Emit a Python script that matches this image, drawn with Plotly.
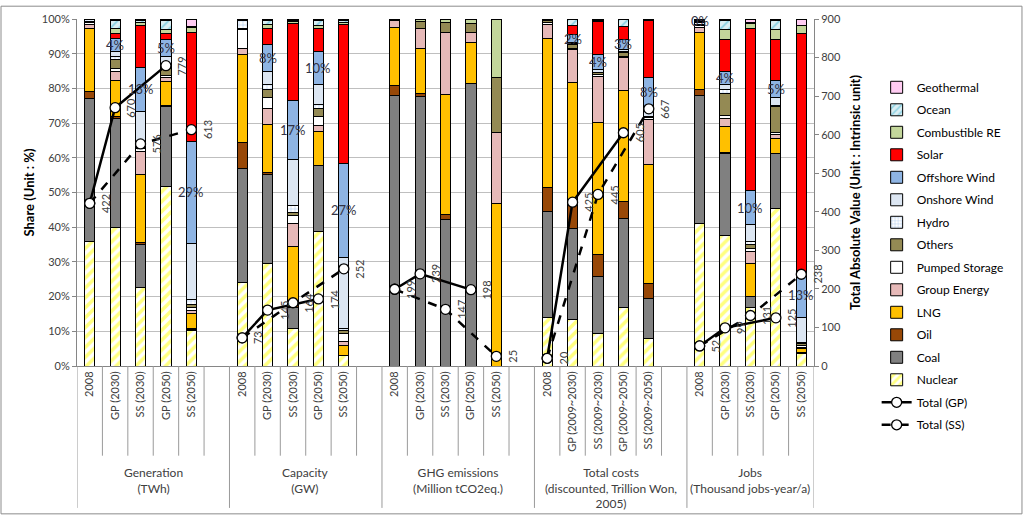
import plotly.graph_objects as go

# ---------------- data ----------------
group_titles = ["Generation<br>(TWh)", "Capacity<br>(GW)", "GHG emissions<br>(Million tCO2eq.)",
                "Total costs<br>(discounted, Trillion Won,<br>2005)", "Jobs<br>(Thousand jobs-year/a)"]
bar_labels = [
    ["2008", "GP (2030)", "SS (2030)", "GP (2050)", "SS (2050)"],
    ["2008", "GP (2030)", "SS (2030)", "GP (2050)", "SS (2050)"],
    ["2008", "GP (2030)", "SS (2030)", "GP (2050)", "SS (2050)"],
    ["2008", "GP (2009~2030)", "SS (2009~2030)", "GP (2009~2050)", "SS (2009~2050)"],
    ["2008", "GP (2030)", "SS (2030)", "GP (2050)", "SS (2050)"],
]

# shares (%) per bar: Generation x5, Capacity x5, GHG x5, Costs x5, Jobs x5
nuclear  = [35.8, 39.9, 22.7, 51.7, 10.2,  24.2, 29.6, 10.7, 38.8, 3.1,  0, 0, 0, 0, 0,  14.0, 13.4, 9.3, 16.8, 7.9,  41.0, 37.7, 16.8, 45.3, 3.6]
coal     = [41.2, 31.4, 12.2, 23.1, 0.3,   32.7, 25.6, 6.3, 19.0, 0,     77.9, 77.6, 42.2, 81.3, 0,  30.6, 26.2, 16.6, 25.8, 11.5,  36.9, 23.5, 3.1, 15.9, 0]
oil      = [2.2, 0.5, 0.7, 0.2, 0.2,       7.5, 0.7, 0.3, 0, 0,          2.9, 0.8, 1.6, 0, 0,  6.8, 6.6, 6.1, 4.7, 4.4,  1.9, 0.3, 0, 0, 0.3]
lng      = [18.0, 10.6, 19.6, 7.0, 4.3,    25.4, 13.8, 17.1, 9.7, 2.9,   16.7, 13.0, 34.3, 11.8, 46.9,  42.9, 35.5, 38.1, 32.1, 34.2,  16.4, 7.6, 9.7, 4.4, 1.1]
group_en = [1.1, 2.5, 6.6, 1.1, 1.0,       1.6, 4.4, 6.6, 1.7, 1.0,      2.2, 5.8, 18.0, 3.1, 20.3,  4.2, 9.5, 13.2, 9.4, 13.1,  1.3, 2.2, 3.4, 1.2, 0.3]
pumped   = [0.8, 0.9, 1.0, 0.5, 0.8,       5.7, 3.2, 2.4, 2.6, 2.5,      0, 0, 0, 0, 0,  0.5, 0.3, 0.6, 0.3, 0.4,  0.5, 0.9, 1.0, 0.6, 0.6]
others   = [0.3, 2.4, 0.3, 2.2, 1.0,       0.2, 2.5, 0.9, 2.3, 0.6,      0.3, 2.1, 3.0, 2.5, 15.8,  0.5, 1.1, 0.6, 1.3, 0.4,  0.5, 6.4, 1.0, 7.4, 0.6]
hydro    = [0.6, 0.9, 0.3, 0.6, 1.5,       2.3, 1.4, 1.9, 1.4, 0.6,      0, 0, 0, 0, 0,  0.5, 0.2, 0.1, 0.2, 0.1,  0.5, 1.2, 0.8, 0.3, 0.4]
onshore  = [0, 1.4, 9.9, 2.9, 16.1,        0.2, 3.8, 13.4, 5.5, 20.6,    0, 0, 0, 0, 0,  0, 0.3, 0.8, 0.6, 2.8,  0.3, 1.4, 5.0, 2.4, 7.1]
offshore = [0, 3.8, 12.8, 4.8, 29.4,       0, 7.6, 16.8, 9.7, 27.2,      0, 0, 0, 0, 0,  0, 2.3, 4.4, 3.0, 8.3,  0.2, 3.8, 9.7, 4.7, 13.1]
solar    = [0, 1.4, 12.0, 1.7, 31.3,       0.2, 4.7, 22.4, 6.5, 40.0,    0, 0, 0, 0, 0,  0, 2.6, 9.4, 3.5, 16.4,  0.3, 9.0, 46.7, 11.8, 68.8]
comb_re  = [0, 1.5, 0.8, 1.2, 1.4,         0, 1.0, 0.4, 0.8, 0.5,        0, 0.7, 0.9, 1.3, 17.0,  0, 0.2, 0.3, 0.2, 0.2,  0.2, 2.9, 1.6, 2.9, 2.3]
ocean    = [0, 2.3, 0.6, 2.6, 0.3,         0, 1.4, 0.4, 1.7, 0.5,        0, 0, 0, 0, 0,  0, 1.7, 0.3, 2.0, 0.2,  0, 2.8, 0.2, 2.8, 0]
geotherm = [0, 0.5, 0.5, 0.4, 2.2,         0, 0.3, 0.4, 0.3, 0.5,        0, 0, 0, 0, 0,  0, 0.1, 0.2, 0.1, 0.1,  0, 0.3, 1.0, 0.3, 1.8]

# totals (right axis) per group: [2008, GP 2030, SS 2030, GP 2050, SS 2050]
total_gen  = [422, 670, 576, 779, 613]
total_cap  = [73, 145, 164, 174, 252]
total_ghg  = [199, 239, 147, 198, 25]
total_cost = [20, 425, 445, 605, 667]
total_jobs = [52, 99, 131, 125, 238]
totals = [total_gen, total_cap, total_ghg, total_cost, total_jobs]

# ---------------- layout helpers ----------------
SLOT = 6
xpos = [g * SLOT + i for g in range(5) for i in range(5)]
ticktext = [lab for labs in bar_labels for lab in labs]
FONT = "Lato"
TXT = "#404040"

series = [
    ("Nuclear", nuclear, dict(color="white", pattern=dict(shape="/", fgcolor="#FFFF00", bgcolor="white", size=7, solidity=0.5))),
    ("Coal", coal, dict(color="#808080")),
    ("Oil", oil, dict(color="#984807")),
    ("LNG", lng, dict(color="#FFC000")),
    ("Group Energy", group_en, dict(color="#E6B9B8")),
    ("Pumped Storage", pumped, dict(color="#FFFFFF")),
    ("Others", others, dict(color="#948A54")),
    ("Hydro", hydro, dict(color="white", pattern=dict(shape="+", fgcolor="#538DD5", bgcolor="white", size=4, solidity=0.25))),
    ("Onshore Wind", onshore, dict(color="#DCE6F2")),
    ("Offshore Wind", offshore, dict(color="#8EB4E3")),
    ("Solar", solar, dict(color="#FF0000")),
    ("Combustible RE", comb_re, dict(color="#C3D69B")),
    ("Ocean", ocean, dict(color="#DAEEF3", pattern=dict(shape="/", fgcolor="#31B0D0", bgcolor="#DAEEF3", size=6, solidity=0.3))),
    ("Geothermal", geotherm, dict(color="#FFCCF2")),
]

fig = go.Figure()
n = len(series)
for k, (name, vals, mk) in enumerate(series):
    mk = dict(mk)
    mk["line"] = dict(color="black", width=1)
    fig.add_trace(go.Bar(
        x=xpos, y=[v if v else None for v in vals], name=name, width=0.4,
        marker=mk, legendrank=n - k, legendgroup=name,
        hovertemplate=name + ": %{y}%<extra></extra>"))

# totals lines
gp_x, gp_y, ss_x, ss_y = [], [], [], []
for g, t in enumerate(totals):
    base = g * SLOT
    gp_x += [base + 0, base + 1, base + 3, None]
    gp_y += [t[0], t[1], t[3], None]
    ss_x += [base + 0, base + 2, base + 4, None]
    ss_y += [t[0], t[2], t[4], None]

mark = dict(symbol="circle", size=10, color="white", line=dict(color="black", width=1.3))
fig.add_trace(go.Scatter(x=gp_x, y=gp_y, yaxis="y2", mode="lines+markers", name="Total (GP)",
                         line=dict(color="black", width=2.5), marker=mark, legendrank=n + 1,
                         legendgroup="gp", connectgaps=False))
fig.add_trace(go.Scatter(x=ss_x, y=ss_y, yaxis="y2", mode="lines+markers", name="Total (SS)",
                         line=dict(color="black", width=2.5, dash="dash"), marker=mark, legendrank=n + 2,
                         legendgroup="ss", connectgaps=False))

annotations = []
# value labels of totals
for g, t in enumerate(totals):
    for i, v in enumerate(t):
        annotations.append(dict(x=g * SLOT + i, y=v, yref="y2", text=str(v), showarrow=False,
                                textangle=-90, xshift=16, font=dict(family=FONT, size=11, color=TXT)))

# offshore wind share labels
stack_below = [nuclear, coal, oil, lng, group_en, pumped, others, hydro, onshore]
for j, x in enumerate(xpos):
    off = offshore[j]
    if off > 0:
        base = sum(s[j] for s in stack_below)
        annotations.append(dict(x=x, y=base + off / 2, yref="y", text=f"{round(off)}%", showarrow=False,
                                font=dict(family=FONT, size=13, color="#333344")))

# group titles
for g, title in enumerate(group_titles):
    cx = g * SLOT + 2.5 if g < 4 else g * SLOT + 2
    annotations.append(dict(x=cx, y=-0.28, yref="paper", yanchor="top", text=title, showarrow=False,
                            font=dict(family=FONT, size=12, color=TXT)))

shapes = []
SEP = "#9A9A9A"
for g in range(5):
    last = 5 if g < 4 else 4
    for k in range(last):
        x = g * SLOT + k + 0.5
        shapes.append(dict(type="line", xref="x", yref="paper", x0=x, x1=x, y0=0, y1=-0.2585,
                           line=dict(color=SEP, width=1)))
for x in [-0.5, 5.5, 11.5, 17.5, 23.5, 28.5]:
    shapes.append(dict(type="line", xref="x", yref="paper", x0=x, x1=x, y0=0, y1=-0.409,
                       line=dict(color=SEP, width=1)))
# outer chart border
shapes.append(dict(type="rect", xref="paper", yref="paper", x0=-0.1031, x1=1.2822, y0=-0.4261, y1=1.0369,
                   line=dict(color="#8C8C8C", width=1)))

fig.update_layout(
    width=1024, height=518,
    margin=dict(l=77, r=210, t=14, b=152),
    paper_bgcolor="white", plot_bgcolor="white",
    barmode="stack",
    font=dict(family=FONT, size=11, color=TXT),
    xaxis=dict(range=[-0.5, 28.5], tickmode="array", tickvals=xpos, ticktext=ticktext,
               tickangle=-90, showgrid=False, zeroline=False, showline=True, linecolor="#868686",
               ticks="", tickfont=dict(family=FONT, size=11, color=TXT)),
    yaxis=dict(range=[0, 100], dtick=10, ticksuffix="%", showgrid=True, gridcolor="#BFBFBF",
               zeroline=False, showline=True, linecolor="#868686", ticks="outside", ticklen=4,
               tickcolor="#868686", tickfont=dict(family=FONT, size=11, color=TXT),
               title=dict(text="Share (Unit : %)", standoff=4,
                          font=dict(family=FONT, size=13, color="black", weight="bold"))),
    yaxis2=dict(range=[0, 900], dtick=100, overlaying="y", side="right", showgrid=False,
                zeroline=False, showline=True, linecolor="#868686", ticks="outside", ticklen=4,
                tickcolor="#868686", tickfont=dict(family=FONT, size=11, color=TXT),
                title=dict(text="Total Absolute Value (Unit : Intrinsic unit)", standoff=10,
                           font=dict(family=FONT, size=13, color="black", weight="bold"))),
    legend=dict(x=1.085, y=0.845, xanchor="left", yanchor="top", traceorder="grouped",
                tracegroupgap=3.5, maxheight=500, font=dict(family=FONT, size=12, color="black"),
                bgcolor="rgba(0,0,0,0)"),
    annotations=annotations, shapes=shapes,
    showlegend=True,
)

fig.write_html("out.html")
